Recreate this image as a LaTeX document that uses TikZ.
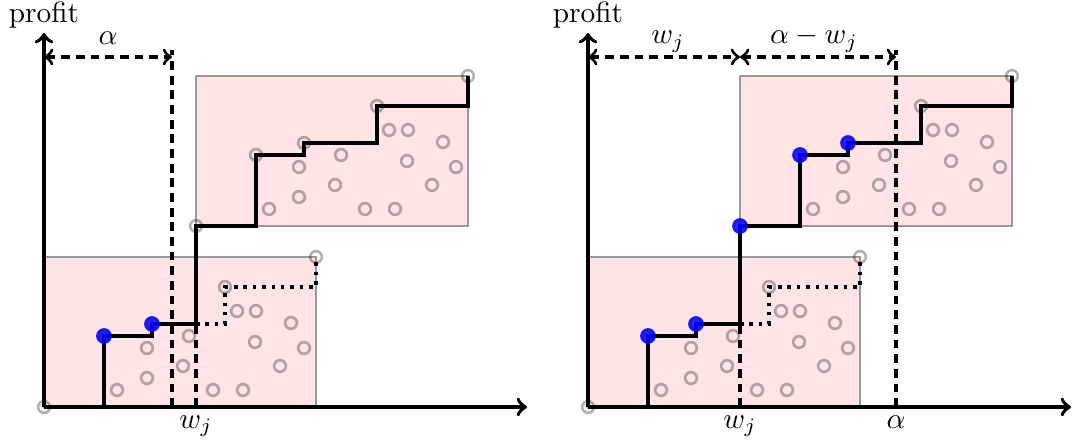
\documentclass[tikz,border=0pt]{standalone}
\begin{document}
\begin{tikzpicture}[x=0.012cm, y=0.012cm,
  axis/.style={line width=1.3pt, ->},
  box/.style={fill=red!10, draw=black!40, line width=0.4pt},
  ring/.style={draw=black, draw opacity=0.3, line width=0.9pt},
  pick/.style={fill=blue, fill opacity=0.85},
  front/.style={line width=1.2pt},
  guide/.style={line width=1.1pt, dash pattern=on 3pt off 2pt},
  span/.style={guide, <->},
  items/.pic={
    \draw[box] (0,0) rectangle (272,150);
    \foreach \px/\py in {0/0,60/71,108/83,181/120,272/150,145/71,103/59,103/29,73/17,139/41,
        169/17,199/17,193/96,212/96,211/65,247/84,260/59,236/41}
      \draw[ring] (\px,\py) circle (2pt);}]
  \useasboundingbox (0,0) rectangle (1072,443);
  % left panel
  \begin{scope}[shift={(44,36)}]
    \pic at (0,0) {items}; \pic at (152,181) {items};
    \coordinate (lo) at (0,0); \coordinate (ly) at (0,374); \coordinate (lx) at (483,0);
    \coordinate (lab) at (128,0); \coordinate (lat) at (128,357);
    \coordinate (lwb) at (152,0); \coordinate (lwt) at (152,83);
    \coordinate (lsa) at (0,350); \coordinate (lsb) at (128,350);
    \draw[axis] (lo) -- (ly);
    \draw[axis] (lo) -- (lx);
    \node[anchor=base] (lprofit) at (0,384) {profit};
    \draw[guide] (lab) -- (lat);
    \draw[guide] (lwb) -- (lwt);
    \draw[span] (lsa) -- (lsb);
    \node[anchor=base] (lalpha) at (64,362) {$\alpha$};
    \draw[front] (lo) -| (60,71) -| (108,83) -| (152,181) -| (212,252) -| (260,264) -| (333,301) -| (424,331);
    \draw[front, dotted] (lwt) -| (181,120) -| (272,150);
    \foreach \px/\py in {60/71,108/83} \fill[pick] (\px,\py) circle (2.7pt);
    \node[anchor=north, inner sep=0pt] (lwj) at (152,-8) {$w_j$};
  \end{scope}
  % right panel
  \begin{scope}[shift={(588,36)}]
    \pic at (0,0) {items}; \pic at (152,181) {items};
    \coordinate (ro) at (0,0); \coordinate (ry) at (0,374); \coordinate (rx) at (483,0);
    \coordinate (rab) at (308,0); \coordinate (rat) at (308,357);
    \coordinate (rwb) at (152,0); \coordinate (rwt) at (152,83);
    \coordinate (rsa) at (0,350); \coordinate (rsw) at (152,350); \coordinate (rsb) at (308,350);
    \draw[axis] (ro) -- (ry);
    \draw[axis] (ro) -- (rx);
    \node[anchor=base] (rprofit) at (0,384) {profit};
    \draw[guide] (rab) -- (rat);
    \draw[guide] (rwb) -- (rwt);
    \draw[span] (rsa) -- (rsw);
    \draw[span] (rsw) -- (rsb);
    \node[anchor=base] (rwjtop) at (80,363) {$w_j$};
    \node[anchor=base] (rrest) at (226,363) {$\alpha-w_j$};
    \draw[front] (ro) -| (60,71) -| (108,83) -| (152,181) -| (212,252) -| (260,264) -| (333,301) -| (424,331);
    \draw[front, dotted] (rwt) -| (181,120) -| (272,150);
    \foreach \px/\py in {60/71,108/83,152/181,212/252,260/264} \fill[pick] (\px,\py) circle (2.7pt);
    \node[anchor=north, inner sep=0pt] (rwj) at (152,-8) {$w_j$};
    \node[anchor=north, inner sep=0pt] (ralpha) at (308,-8) {$\alpha$};
  \end{scope}
\end{tikzpicture}
\end{document}
